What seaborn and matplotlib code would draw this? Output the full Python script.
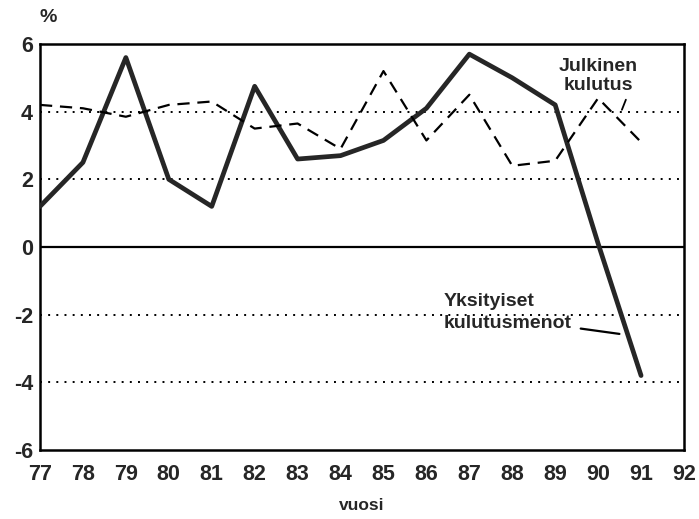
import numpy as np
import pandas as pd
import matplotlib
matplotlib.use("Agg")
import matplotlib.pyplot as plt
import seaborn as sns

# data (annual change, %)
years = [77, 78, 79, 80, 81, 82, 83, 84, 85, 86, 87, 88, 89, 90, 91]
yksityiset = [1.2, 2.5, 5.6, 2.0, 1.2, 4.75, 2.6, 2.7, 3.15, 4.1, 5.7, 5.0, 4.2, 0.1, -3.8]
julkinen = [4.2, 4.1, 3.85, 4.2, 4.3, 3.5, 3.65, 2.9, 5.2, 3.15, 4.5, 2.4, 2.55, 4.4, 3.1]
x_ticks = list(range(77, 93))
y_ticks = [-6, -4, -2, 0, 2, 4, 6]

df = pd.DataFrame({
    "vuosi": years * 2,
    "arvo": yksityiset + julkinen,
    "sarja": ["Yksityiset kulutusmenot"] * len(years) + ["Julkinen kulutus"] * len(years),
})

sns.set_style("white")
plt.rcParams['font.family'] = ['Liberation Sans', 'DejaVu Sans']

fig, ax = plt.subplots(figsize=(6.99, 5.19), dpi=100)
fig.subplots_adjust(left=40/699, right=684/699, bottom=1-450/519, top=1-44/519)

# reference lines
for yv in [-4, -2, 2, 4]:
    ax.axhline(yv, color="black", lw=1.4, ls=(0, (1, 3.2)), zorder=1)
ax.axhline(0, color="black", lw=1.6, zorder=1)

sns.lineplot(data=df, x="vuosi", y="arvo", style="sarja", size="sarja",
             hue="sarja", palette={"Yksityiset kulutusmenot": "#262626", "Julkinen kulutus": "black"},
             sizes={"Yksityiset kulutusmenot": 3.4, "Julkinen kulutus": 1.6},
             dashes={"Yksityiset kulutusmenot": "", "Julkinen kulutus": (5.5, 3.5)},
             legend=False, ax=ax, zorder=3)

ax.set_xlim(77, 92)
ax.set_ylim(-6, 6)
ax.set_xticks(x_ticks)
ax.set_yticks(y_ticks)
ax.set_xticklabels([str(v) for v in x_ticks], fontsize=15.5, fontweight="bold")
ax.set_yticklabels([str(v) for v in y_ticks], fontsize=15.5, fontweight="bold")
ax.tick_params(axis="x", direction="in", length=8, width=1.5, pad=10)
ax.tick_params(axis="y", direction="in", length=8, width=1.5, pad=5)
ax.set_xlabel("vuosi", fontsize=12.5, fontweight="bold")
ax.xaxis.set_label_coords(0.5, -(505 - 450) / 406)
ax.xaxis.label.set_va("center")
ax.set_ylabel("")
for sp in ax.spines.values():
    sp.set_linewidth(1.8)
    sp.set_color("black")

ax.text(0.012, 1 + 26 / 406, "%", transform=ax.transAxes, fontsize=14, fontweight="bold",
        ha="center", va="center")

ax.text(90.0, 5.05, "Julkinen\nkulutus", fontsize=14, fontweight="bold",
        ha="center", va="center", linespacing=1.15)
ax.annotate("", xy=(90.53, 3.98), xytext=(90.67, 4.43),
            arrowprops=dict(arrowstyle="-", color="black", lw=1.3))

ax.text(86.41, -1.93, "Yksityiset\nkulutusmenot", fontsize=14, fontweight="bold",
        ha="left", va="center", linespacing=1.35)
ax.annotate("", xy=(90.56, -2.58), xytext=(89.53, -2.4),
            arrowprops=dict(arrowstyle="-", color="black", lw=1.6))

fig.savefig("out.png", dpi=100)
